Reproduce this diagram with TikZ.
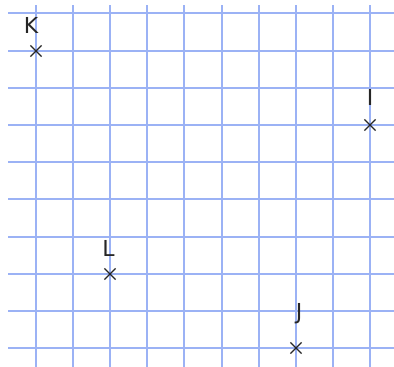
\documentclass[tikz,border=0pt]{standalone}
\usepackage{fontspec}
\setmainfont{DejaVu Sans}
\usetikzlibrary{shapes.misc}
\definecolor{gridblue}{RGB}{155,178,245}
\begin{document}
\begin{tikzpicture}[x=1pt,y=-1pt,
  gridline/.style={gridblue, line width=1.6pt},
  ptmark/.style={cross out, draw=black!85, line width=1.2pt, minimum size=10pt, inner sep=0pt},
  lbl/.style={font=\fontsize{22}{26}\selectfont, text=black!85, inner sep=0pt, anchor=base}]
\useasboundingbox (0,0) rectangle (394,367);
\foreach \y in {13,51,88,125,162,199,237,274,311,348} {
  \draw[gridline] (8,\y) -- (394,\y);
}
\foreach \x in {36,73,110,147,184,222,259,296,333,370} {
  \draw[gridline] (\x,5) -- (\x,367);
}
\node[ptmark] (K) at (36,51) {};
\node[ptmark] (I) at (370,125) {};
\node[ptmark] (L) at (110,274) {};
\node[ptmark] (J) at (296,348) {};
\node[lbl] (Klab) at (31,33) {K};
\node[lbl] (Ilab) at (370,105) {I};
\node[lbl] (Llab) at (108.5,256) {L};
\node[lbl] (Jlab) at (299,319) {J};
\end{tikzpicture}
\end{document}
